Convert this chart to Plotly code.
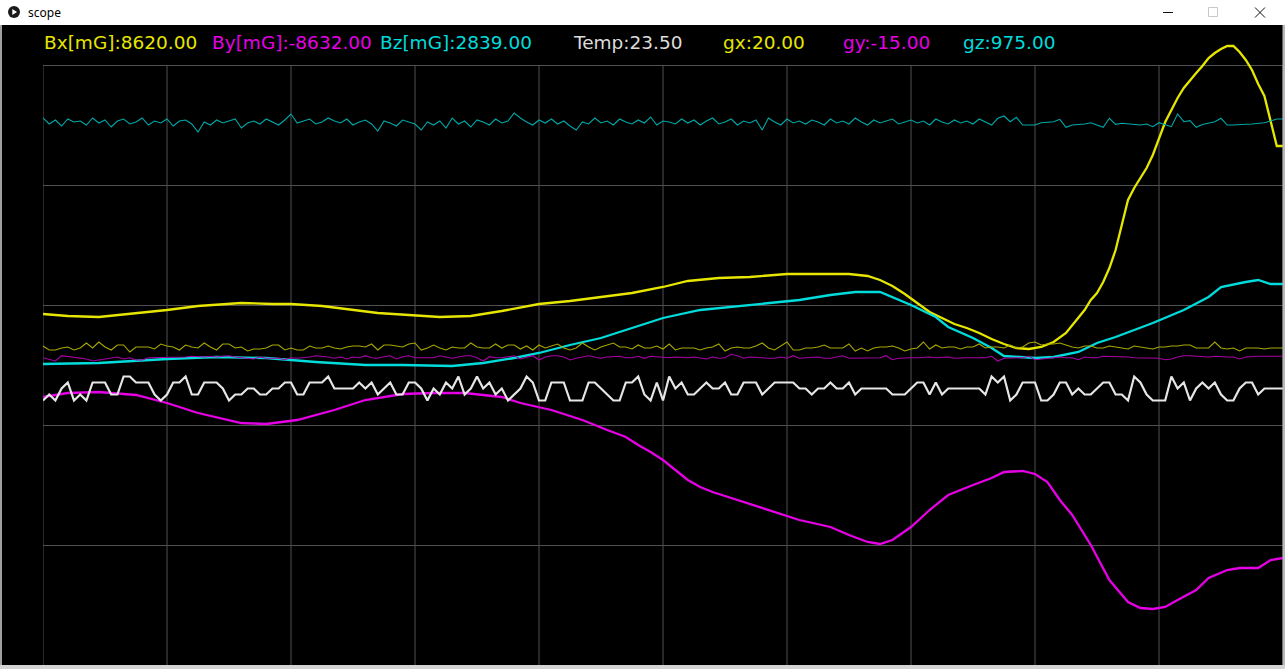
import plotly.graph_objects as go

# ---------------- data (scope display units; Temp in degC) ----------------
n_samples = 201
sample_idx = list(range(n_samples))

bx_t = [0,4,9,14,20,25,32,37,40,45,50,54,59,64,69,74,80,85,90,95,100,104,109,114,120,125,130,
        133,135,137,139,141,143,145,147,149,151,153,155,157,159,161,163,165,167,168,169,170,171,172,173,174,175,176,177,178,
        179,180,181,182,183,184,185,186,187,188,189,190,191,192,193,194,195,196,197,198,199,200]
bx = [51,49,48,51,55,59,62,61,61,59,55,52,50,48,49,54,61,64,68,72,78,84,87,88,91,91,91,
      89,85,79,71,62,53,47,41,37,32,26,21,17,16,18,23,32,47,55,65,72,83,97,115,140,165,177,187,197,
      210,227,243,255,267,277,285,292,299,307,312,316,319,319,313,305,295,281,269,243,219,219]

by_t = [0,4,9,15,20,25,32,36,41,47,52,58,63,68,74,77,82,87,91,94,96,98,100,102,104,106,108,110,112,117,122,127,130,133,135,
        137,140,143,146,150,153,155,158,160,162,164,166,169,172,175,177,179,181,183,186,188,191,193,196,198,200]
by = [-32,-28,-27,-30,-38,-48,-58,-59,-55,-45,-35,-29,-28,-28,-32,-38,-45,-55,-65,-72,-80,-87,-95,-105,-115,-122,-127,-131,-135,-145,-155,-162,-170,-177,-179,
      -175,-162,-145,-130,-120,-113,-107,-106,-109,-117,-135,-150,-180,-215,-237,-243,-244,-242,-235,-225,-213,-205,-203,-203,-195,-193]

bz_t = [0,9,20,28,36,44,52,58,66,71,76,80,85,90,95,100,106,111,117,122,127,131,135,137,140,144,146,150,153,155,
        160,163,167,170,173,179,184,188,190,194,196,198,200]
bz = [1,2,6,8,7,3,0,0,-1,2,7,12,20,27,37,47,55,58,62,65,70,73,73,68,60,48,38,27,17,9,
      7,8,13,22,28,42,55,68,78,83,85,81,81]

temp = [23.0,23.25,23.0,23.5,23.75,23.0,23.25,23.0,23.75,23.75,
        23.75,23.25,23.25,24.0,24.0,23.75,23.75,23.75,23.25,23.0,
        23.25,23.75,23.75,24.0,23.25,23.25,23.75,23.75,23.75,23.5,
        23.0,23.25,23.25,23.5,23.5,23.25,23.25,23.5,23.5,23.75,
        23.75,23.25,23.25,23.75,23.75,23.75,24.0,23.5,23.5,23.5,
        23.5,23.75,23.5,23.75,23.25,23.5,23.75,23.25,23.25,23.75,
        23.75,23.5,23.0,23.5,23.25,23.75,23.5,24.0,23.25,23.5,
        24.0,23.5,23.75,23.25,23.5,23.0,23.25,23.5,24.0,23.75,
        23.0,23.0,23.75,23.75,23.75,23.0,23.0,23.0,23.75,23.75,
        23.5,23.25,23.0,23.0,23.75,23.75,24.0,23.25,23.0,23.75,
        23.0,24.0,23.5,23.75,23.25,23.25,23.5,23.75,23.5,23.5,
        23.75,23.25,23.25,23.75,23.75,23.75,23.25,23.5,23.75,23.75,
        23.75,23.75,23.5,23.5,23.25,23.5,23.5,23.75,23.5,23.5,
        23.75,23.25,23.5,23.5,23.5,23.5,23.5,23.25,23.25,23.25,
        23.5,23.75,23.75,23.25,23.75,23.25,23.5,23.5,23.5,23.5,
        23.5,23.5,23.25,24.0,23.75,24.0,23.0,23.25,23.75,23.75,
        23.75,23.0,23.0,23.25,23.75,23.75,23.25,23.5,23.25,23.25,
        23.5,23.75,23.75,23.25,23.25,23.0,24.0,23.75,23.25,23.0,
        23.0,23.0,24.0,23.5,23.75,23.0,23.5,23.75,23.5,23.75,
        23.25,23.0,23.0,23.5,23.75,23.75,23.25,23.5,23.5,23.5,
        23.5]

gx = [19,15,15,17,18,15,17,22,17,23,18,15,20,20,13,18,18,18,16,21,19,18,15,20,18,17,22,18,15,21,21,17,18,14,16,16,17,20,20,15,17,15,15,19,17,17,19,17,16,18,19,
      19,18,21,15,20,20,19,18,21,22,15,17,20,17,15,18,17,17,22,18,17,17,21,17,20,20,16,19,15,20,17,19,21,17,15,17,22,18,15,18,20,22,18,18,16,20,17,17,19,
      16,21,15,17,17,17,15,17,18,21,14,17,18,17,17,19,22,17,15,19,23,15,15,17,17,18,20,17,17,17,21,14,17,14,17,18,18,19,17,14,16,17,23,16,20,17,18,18,16,18,
      18,21,17,18,18,17,20,17,18,22,23,20,21,21,22,20,18,17,19,19,17,17,19,18,17,16,19,18,17,16,18,18,19,19,20,20,17,17,17,23,17,16,17,14,17,17,17,16,17,17,17]

gy = [7.3,6,4,9.3,8.3,7.7,6.7,6,4,5,6,6.7,8,6,7.3,5,5,7.3,7.3,7.3,7.3,7.3,8,8,8.7,8,8,8.7,8,8.7,9.3,8,7.3,7.3,6,8,6.7,6.7,6.7,5.3,7.3,6.7,7.3,8,9.3,8.7,8,6.7,8,6,8,
      7.3,9.3,7.3,6.7,8.3,9.3,6,8.3,9.3,7.3,7.3,7.3,7.3,9.3,8,6.7,8,9.3,9.3,7.3,4,8.3,7.3,7.3,8.3,9.3,6,7.3,9.3,5,8,9.3,9.3,8,5,6.7,8,9.3,8,6.7,8,8.7,8.7,7.3,7.3,8.7,6.7,8.7,8,
      7.3,7.3,8,7.3,7.3,8,6.7,6,8,6.7,7.3,10.7,9.3,6.7,8,7.3,7.3,6.7,6.7,8,6.7,9.3,6.7,7.3,8,8,6.7,6.7,8,9.3,6.7,6.7,6.7,6.7,7.3,7.3,9.3,5.3,6.7,7.3,7.3,7.3,8,8,7.3,7.3,8,6.7,7.3,7.3,
      7.3,7.3,7.3,8.7,4,6.7,7.3,7.3,7.3,8.7,5.3,6,7.3,7.3,8,7.3,7.3,5.3,8,7.3,7.3,8.7,8.7,8.7,8.7,8,7.3,7.3,7.3,7.3,6.7,5.3,6,8,9.3,9.3,8.7,8.7,8,8.7,8,8,8,6,8,8.7,8.7,8.7,8.7,8.7,8.7]

gz = [247,241,245,239,246,243,244,240,247,242,245,238,244,246,241,243,247,240,244,242,
      246,239,244,245,241,233,243,240,245,242,244,246,237,242,244,241,246,243,240,245,
      251,242,244,246,241,243,247,244,242,246,240,243,245,241,234,244,242,239,245,243,
      241,235,243,240,244,237,247,241,244,238,245,243,240,246,242,244,252,247,243,240,
      245,242,246,241,244,239,235,243,241,247,242,244,240,246,243,241,245,242,248,240,
      244,243,241,246,242,245,240,244,247,241,243,246,240,244,242,245,235,247,243,240,
      246,242,244,241,245,243,240,246,242,244,241,247,243,240,245,242,244,246,241,243,
      245,242,244,240,246,243,241,245,242,244,241,246,243,240,
      246.7,249,243.3,247.7,240,240,240,242.3,242.5,243.3,245.7,237.7,240,240.5,241,242.3,240,237.7,246.7,240.7,
      241.7,241,240,240,241,238.3,242.3,240,238.3,251,243.3,244.3,237.7,240.5,241.7,243.3,246.7,240,240,240,
      240.7,241,241.7,242.3,244,246,246]

labels = ["Bx[mG]:8620.00", "By[mG]:-8632.00", "Bz[mG]:2839.00", "Temp:23.50",
          "gx:20.00", "gy:-15.00", "gz:975.00"]

grid_x = list(range(0, 201, 20))

# ---------------- styling / layout ----------------
W, H = 1285, 669
ML, MR, MT, MB = 43, 2, 25, 4
PW, PH = W - ML - MR, H - MT - MB

def pxx(x):
    return (x - ML) / PW

def pxy(y):
    return (H - MB - y) / PH

YEL, MAG, CYN, WHT = "#e6e600", "#e600e6", "#00dcdc", "#e6e6e6"
YEL_D, MAG_D, CYN_D = "#a8a800", "#a800a8", "#00a8a8"

fig = go.Figure()

def add(x, y, color, width, name, axis="y"):
    fig.add_trace(go.Scatter(x=x, y=y, mode="lines", name=name, yaxis=axis,
                             line=dict(color=color, width=width), hoverinfo="skip"))

add(bx_t, bx, YEL, 2.3, "Bx")
add(by_t, by, MAG, 2.3, "By")
add(bz_t, bz, CYN, 2.3, "Bz")
add(sample_idx, temp, WHT, 2.2, "Temp", "y2")
add(sample_idx, gx, YEL_D, 1.1, "gx")
add(sample_idx, gy, MAG_D, 1.1, "gy")
add(sample_idx, gz, CYN_D, 1.1, "gz")

grid = "#505050"
fig.update_layout(
    width=W, height=H, autosize=False,
    margin=dict(l=ML, r=MR, t=MT, b=MB, pad=0),
    paper_bgcolor="black", plot_bgcolor="black",
    showlegend=False, hovermode=False,
    xaxis=dict(range=[0, 200], showgrid=False, zeroline=False, showticklabels=False,
               ticks="", showline=False),
    yaxis=dict(range=[-300, 340], dtick=120, tick0=60, showgrid=True, gridcolor=grid, gridwidth=1,
               zeroline=False, showticklabels=False, ticks="", showline=False),
    yaxis2=dict(range=[11.979, 38.646], overlaying="y", visible=False, showgrid=False),
)

shapes = []
# vertical grid lines (only inside the scope area)
for gxv in grid_x:
    shapes.append(dict(type="line", xref="x", yref="y", x0=gxv, x1=gxv, y0=-300, y1=300,
                       line=dict(color=grid, width=1), layer="below"))
# window title bar
shapes.append(dict(type="rect", xref="paper", yref="paper", x0=pxx(0), x1=pxx(W), y0=pxy(25), y1=pxy(0),
                   fillcolor="white", line=dict(width=0), layer="above"))
# window borders
shapes.append(dict(type="rect", xref="paper", yref="paper", x0=pxx(0), x1=pxx(2), y0=pxy(H), y1=pxy(25),
                   fillcolor="#a0a0a0", line=dict(width=0), layer="above"))
shapes.append(dict(type="rect", xref="paper", yref="paper", x0=pxx(W - 2.5), x1=pxx(W), y0=pxy(H), y1=pxy(25),
                   fillcolor="#b8b8b8", line=dict(width=0), layer="above"))
shapes.append(dict(type="rect", xref="paper", yref="paper", x0=pxx(0), x1=pxx(W), y0=pxy(H), y1=pxy(H - 4),
                   fillcolor="#d4d4d4", line=dict(width=0), layer="above"))
# app icon
shapes.append(dict(type="circle", xref="paper", yref="paper", x0=pxx(8), x1=pxx(20), y0=pxy(18), y1=pxy(6),
                   fillcolor="#1a1a1a", line=dict(width=0), layer="above"))
shapes.append(dict(type="path", xref="paper", yref="paper",
                   path=f"M {pxx(12.3)} {pxy(9)} L {pxx(12.3)} {pxy(15)} L {pxx(17)} {pxy(12)} Z",
                   fillcolor="white", line=dict(width=0), layer="above"))
# window buttons
shapes.append(dict(type="line", xref="paper", yref="paper", x0=pxx(1163), x1=pxx(1173), y0=pxy(12.5), y1=pxy(12.5),
                   line=dict(color="#111111", width=1), layer="above"))
shapes.append(dict(type="rect", xref="paper", yref="paper", x0=pxx(1208.5), x1=pxx(1217.5), y0=pxy(16.5), y1=pxy(7.5),
                   line=dict(color="#c8c8c8", width=1), layer="above"))
shapes.append(dict(type="line", xref="paper", yref="paper", x0=pxx(1255), x1=pxx(1265), y0=pxy(7.5), y1=pxy(17.5),
                   line=dict(color="#111111", width=1), layer="above"))
shapes.append(dict(type="line", xref="paper", yref="paper", x0=pxx(1255), x1=pxx(1265), y0=pxy(17.5), y1=pxy(7.5),
                   line=dict(color="#111111", width=1), layer="above"))
fig.update_layout(shapes=shapes)

annotations = [dict(text="scope", xref="paper", yref="paper", x=pxx(26), y=pxy(12.5), xanchor="left",
                    yanchor="middle", showarrow=False, font=dict(family="Noto Sans", size=12, color="black"))]
label_x = [42, 210, 378, 571, 721, 841, 961]
label_c = [YEL, MAG, CYN, "#dcdcdc", YEL, MAG, CYN]
for t, x, c in zip(labels, label_x, label_c):
    annotations.append(dict(text=t, xref="paper", yref="paper", x=pxx(x), y=pxy(42.5), xanchor="left",
                            yanchor="middle", showarrow=False,
                            font=dict(family="DejaVu Sans", size=18.5, color=c)))
fig.update_layout(annotations=annotations)

fig.write_html("out.html", config={"displayModeBar": False, "staticPlot": True},
               post_script="document.body.style.margin='0';document.body.style.overflow='hidden';")
